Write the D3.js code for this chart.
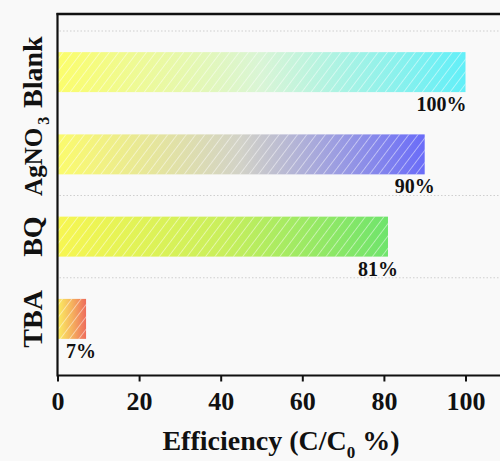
<!DOCTYPE html>
<html>
<head>
<meta charset="utf-8">
<script src="https://cdn.jsdelivr.net/npm/d3@7"></script>
<style>
  html, body { margin: 0; padding: 0; background: #f9f9f9; }
  svg { display: block; }
  text { font-family: "Liberation Serif", "Times New Roman", serif; font-weight: bold; fill: #111; }
</style>
</head>
<body>
<svg id="chart" width="500" height="461"></svg>
<script>
// Scavenger test: removal efficiency for each trapping agent
const categories = ["Blank", "AgNO3", "BQ", "TBA"];
const efficiency = [100, 90, 81, 7];
const xTicks = [0, 20, 40, 60, 80, 100];
// gradient colours per bar (left -> mid -> right)
const startColors = ["#fbfd6c", "#fbfb6c", "#f7f652", "#fbef62"];
const midColors   = ["#d9f5d6", "#d2d2c8", "#c9ef5c", "#f5b35e"];
const endColors   = ["#62eff8", "#6a6cf8", "#6fe46c", "#ee6c5c"];

const svg = d3.select("#chart");
const W = 500;
const plotLeft = 57.5, plotTop = 14, plotBottom = 375.5;

const x = d3.scaleLinear().domain([0, 100]).range([plotLeft, 465.5]);
const y = d3.scaleBand().domain(categories).range([31, 360])
  .paddingInner(0.514).paddingOuter(0.257);

const defs = svg.append("defs");

// white diagonal hatch
const pat = defs.append("pattern")
  .attr("id", "hatch").attr("patternUnits", "userSpaceOnUse")
  .attr("width", 7.4).attr("height", 10)
  .attr("patternTransform", "rotate(37)");
pat.append("line").attr("x1", 0).attr("y1", 0).attr("x2", 0).attr("y2", 10)
  .attr("stroke", "#ffffff").attr("stroke-width", 1.2).attr("stroke-opacity", 0.75);

categories.forEach((c, i) => {
  const g = defs.append("linearGradient").attr("id", "grad" + i)
    .attr("x1", "0%").attr("x2", "100%").attr("y1", "0%").attr("y2", "0%");
  g.append("stop").attr("offset", "0%").attr("stop-color", startColors[i]);
  g.append("stop").attr("offset", "50%").attr("stop-color", midColors[i]);
  g.append("stop").attr("offset", "100%").attr("stop-color", endColors[i]);
});

// dotted guide lines
const gridY = [y.range()[0], y.range()[0] + 2 * y.step(), y.range()[0] + 3 * y.step()];
svg.append("g").selectAll("line").data(gridY).join("line")
  .attr("x1", plotLeft + 2).attr("x2", W)
  .attr("y1", d => d).attr("y2", d => d)
  .attr("stroke", "#cfcfcf").attr("stroke-width", 1)
  .attr("stroke-dasharray", "1.5,2");

// bars
const rows = categories.map((c, i) => ({ c, v: efficiency[i], i }));
const bars = svg.append("g");
bars.selectAll("rect.fill").data(rows).join("rect").attr("class", "fill")
  .attr("x", x(0)).attr("y", d => y(d.c))
  .attr("width", d => x(d.v) - x(0)).attr("height", y.bandwidth())
  .attr("fill", d => `url(#grad${d.i})`);
bars.selectAll("rect.hatch").data(rows).join("rect").attr("class", "hatch")
  .attr("x", x(0)).attr("y", d => y(d.c))
  .attr("width", d => x(d.v) - x(0)).attr("height", y.bandwidth())
  .attr("fill", "url(#hatch)");

// value labels under each bar
svg.append("g").selectAll("text").data(rows).join("text")
  .attr("x", d => Math.min(x(d.v) + 10, x(100) + 1))
  .attr("y", d => y(d.c) + y.bandwidth() + 19)
  .attr("text-anchor", "end")
  .attr("font-size", 20)
  .text(d => d.v + "%");

// x axis
const xAxis = svg.append("g").attr("transform", `translate(0,${plotBottom})`)
  .call(d3.axisBottom(x).tickValues(xTicks).tickSize(6).tickPadding(5).tickFormat(d3.format("d")));
xAxis.select(".domain").remove();
xAxis.selectAll(".tick line").attr("stroke", "#111").attr("stroke-width", 2);
xAxis.selectAll(".tick text").attr("font-size", 26).attr("dy", "0.9em")
  .style("font-family", '"Liberation Serif", serif').style("font-weight", "bold").attr("fill", "#111");

// frame: left, bottom, top
svg.append("line").attr("x1", plotLeft).attr("x2", W).attr("y1", plotBottom).attr("y2", plotBottom)
  .attr("stroke", "#111").attr("stroke-width", 2.2);
svg.append("line").attr("x1", plotLeft).attr("x2", plotLeft).attr("y1", plotTop - 1).attr("y2", plotBottom + 1)
  .attr("stroke", "#111").attr("stroke-width", 2.2);
svg.append("line").attr("x1", plotLeft - 1).attr("x2", W).attr("y1", plotTop).attr("y2", plotTop)
  .attr("stroke", "#111").attr("stroke-width", 2.5);

// category labels (rotated); formulas get a subscript and a slightly smaller face
const yl = svg.append("g");
rows.forEach(d => {
  const m = d.c.match(/^([A-Za-z]+?)(\d+)$/);
  const cy = y(d.c) + y.bandwidth() / 2 + (m ? 2 : 0);
  const t = yl.append("text")
    .attr("transform", `translate(42,${cy}) rotate(-90)`)
    .attr("text-anchor", "middle").attr("font-size", m ? 25 : 28);
  if (m) {
    t.append("tspan").text(m[1]);
    t.append("tspan").attr("font-size", 16).attr("dx", 3).attr("dy", 7).text(m[2]);
  } else {
    t.text(d.c);
  }
});

// axis title
const title = svg.append("text")
  .attr("x", 281).attr("y", 450).attr("text-anchor", "middle").attr("font-size", 28);
title.append("tspan").text("Efficiency (C/C");
title.append("tspan").attr("font-size", 17).attr("dy", 8).text("0");
title.append("tspan").attr("dy", -8).text("\u00a0%)");
</script>
</body>
</html>
